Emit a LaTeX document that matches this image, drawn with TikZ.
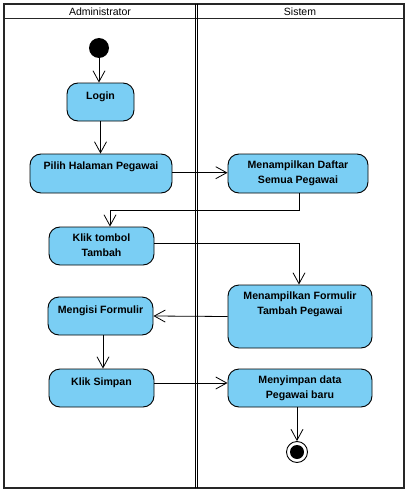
\documentclass[tikz,border=0pt]{standalone}
\usepackage{fontspec}
\setmainfont{Liberation Sans}
\usetikzlibrary{arrows.meta,positioning}
\definecolor{actfill}{RGB}{122,206,244}
\tikzset{
  frameline/.style={line width=1.4pt,black!85},
  act/.style={draw=black,line width=0.9pt,fill=actfill,rounded corners=11pt,inner sep=0pt},
  acttxt/.style={font=\bfseries\fontsize{10.6}{15}\selectfont,align=center,anchor=north,inner sep=0pt},
  flow/.style={line width=0.8pt,-{Straight Barb[length=11pt,width=12pt,line width=0.8pt]}},
  hdr/.style={font=\fontsize{10.5}{12}\selectfont,inner sep=0pt}
}
\begin{document}
\begin{tikzpicture}[x=1pt,y=-1pt]
\useasboundingbox (0,0) rectangle (409,495);
% frame
\draw[frameline] (4,4) rectangle (404,488);
\draw[frameline] (4,18.5) -- (404,18.5);
\draw[line width=1pt] (195,4) -- (195,488);
\draw[line width=1pt] (197.5,4) -- (197.5,488);
\node[hdr] (h1) at (100,12) {Administrator};
\node[hdr] (h2) at (300,12) {Sistem};
% start / end
\node[circle,fill=black,minimum size=20pt,inner sep=0pt] (start) at (99,48) {};
\node[circle,draw=black,line width=0.9pt,fill=white,minimum size=21pt,inner sep=0pt] (end) at (297,452) {};
\node[circle,fill=black,minimum size=14pt,inner sep=0pt] (endin) at (297,452) {};
% activities
\node[act,minimum width=67pt,minimum height=38pt] (login) at (100.5,102) {};
\node[acttxt] (tlogin) at ([yshift=-9pt]login.north) {Login};
\node[act,minimum width=142pt,minimum height=39pt] (pilih) at (101,173.5) {};
\node[acttxt] (tpilih) at ([yshift=-8pt]pilih.north) {Pilih Halaman Pegawai};
\node[act,minimum width=140pt,minimum height=39pt] (daftar) at (298,173.5) {};
\node[acttxt] (tdaftar) at ([yshift=-7pt]daftar.north) {Menampilkan Daftar\\Semua Pegawai};
\node[act,minimum width=105pt,minimum height=38pt] (tambah) at (101.5,246) {};
\node[acttxt] (ttambah) at ([yshift=-7pt]tambah.north) {Klik tombol\\Tambah};
\node[act,minimum width=144pt,minimum height=63pt] (formulir) at (300,316.5) {};
\node[acttxt] (tformulir) at ([yshift=-7pt]formulir.north) {Menampilkan Formulir\\Tambah Pegawai};
\node[act,minimum width=105pt,minimum height=38pt] (mengisi) at (100.5,316) {};
\node[acttxt] (tmengisi) at ([yshift=-9pt]mengisi.north) {Mengisi Formulir};
\node[act,minimum width=105pt,minimum height=38pt] (simpan) at (101.5,388) {};
\node[acttxt] (tsimpan) at ([yshift=-9pt]simpan.north) {Klik Simpan};
\node[act,minimum width=144pt,minimum height=38pt] (menyimpan) at (300,388) {};
\node[acttxt] (tmenyimpan) at ([yshift=-7pt]menyimpan.north) {Menyimpan data\\Pegawai baru};
% flows
\draw[flow] (start.south) -- (login.north -| start.south);
\draw[flow] (login.south) -- (login.south |- pilih.north);
\draw[flow] ([yshift=0.8pt]pilih.east) -- ([yshift=0.8pt]daftar.west);
\draw[flow] ([xshift=1pt]daftar.south) -- ++(0,17) -| ([xshift=8.5pt]tambah.north);
\draw[flow] ([yshift=3pt]tambah.east) -| ([xshift=-1pt]formulir.north);
\draw[flow] (formulir.west) -- (mengisi.east);
\draw[flow] ([xshift=2.5pt]mengisi.south) -- ([xshift=1.5pt]simpan.north);
\draw[flow] ([yshift=5pt]simpan.east) -- ([yshift=5pt]menyimpan.west);
\draw[flow] (menyimpan.south -| end.north) -- (end.north);
\end{tikzpicture}
\end{document}
